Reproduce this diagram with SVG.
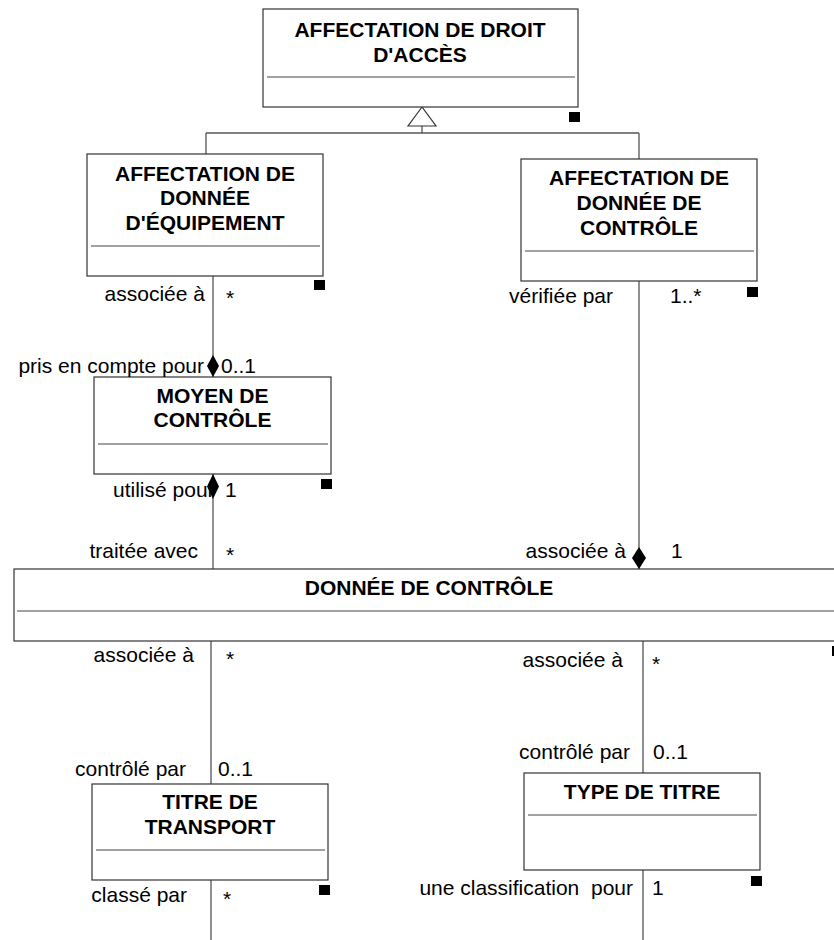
<svg xmlns="http://www.w3.org/2000/svg" width="834" height="940" viewBox="0 0 834 940">
<style>
.box{fill:#fff;stroke:#333;stroke-width:1.2}
.div{stroke:#444;stroke-width:1.2}
.t{font-family:"Liberation Sans",Arial,sans-serif;font-size:21px;font-weight:bold;text-anchor:middle;fill:#000}
.l{font-family:"Liberation Sans",Arial,sans-serif;font-size:21px;fill:#000}
.e{text-anchor:end}
.c{stroke:#555;stroke-width:1.3;fill:none}
.dm{fill:#000}
.sq{fill:#000}
</style>
<rect width="834" height="940" fill="#fff"/>
<g id="connectors">
<path class="c" d="M422 126V133M206 133H639M206 133V154M639 133V159"/>
<polygon points="422,107 408,126 436,126" fill="#fff" stroke="#333" stroke-width="1.2"/>
<path class="c" d="M213 276V377"/>
<path class="c" d="M213 474V569"/>
<path class="c" d="M639 281V569"/>
<path class="c" d="M211 641V784M211 880V940"/>
<path class="c" d="M643 641V773M643 870V940"/>
</g>
<g id="n1">
<rect class="box" x="263" y="9" width="315" height="98"/>
<line class="div" x1="267" y1="77" x2="575" y2="77"/>
<text class="t" x="420" y="37">AFFECTATION DE DROIT</text>
<text class="t" x="420" y="62">D'ACCÈS</text>
<rect class="sq" x="569" y="112" width="11" height="10"/>
</g>
<g id="n2">
<rect class="box" x="87" y="154" width="236" height="122"/>
<line class="div" x1="91" y1="246" x2="320" y2="246"/>
<text class="t" x="205" y="181">AFFECTATION DE</text>
<text class="t" x="205" y="205">DONNÉE</text>
<text class="t" x="205" y="230">D'ÉQUIPEMENT</text>
<rect class="sq" x="314" y="280" width="11" height="10"/>
</g>
<g id="n3">
<rect class="box" x="521" y="159" width="236" height="122"/>
<line class="div" x1="525" y1="251" x2="754" y2="251"/>
<text class="t" x="639" y="185">AFFECTATION DE</text>
<text class="t" x="639" y="210">DONNÉE DE</text>
<text class="t" x="639" y="235">CONTRÔLE</text>
<rect class="sq" x="747" y="287" width="11" height="10"/>
</g>
<g id="n4">
<rect class="box" x="94" y="377" width="237" height="97"/>
<line class="div" x1="98" y1="444" x2="328" y2="444"/>
<text class="t" x="212.5" y="403">MOYEN DE</text>
<text class="t" x="212.5" y="427">CONTRÔLE</text>
<rect class="sq" x="321" y="479" width="11" height="10"/>
</g>
<g id="n5">
<rect class="box" x="14" y="569" width="840" height="72"/>
<line class="div" x1="17" y1="611" x2="834" y2="611"/>
<text class="t" x="429" y="595">DONNÉE DE CONTRÔLE</text>
<rect class="sq" x="832" y="646" width="11" height="10"/>
</g>
<g id="n6">
<rect class="box" x="92" y="784" width="236" height="96"/>
<line class="div" x1="96" y1="850" x2="325" y2="850"/>
<text class="t" x="210" y="809">TITRE DE</text>
<text class="t" x="210" y="834">TRANSPORT</text>
<rect class="sq" x="319" y="885" width="11" height="10"/>
</g>
<g id="n7">
<rect class="box" x="524" y="773" width="236" height="97"/>
<line class="div" x1="528" y1="815" x2="757" y2="815"/>
<text class="t" x="642" y="799">TYPE DE TITRE</text>
<rect class="sq" x="751" y="876" width="11" height="10"/>
</g>
<g id="labels">
<text class="l e" x="205" y="301">associée à</text>
<text class="l" x="226" y="305">*</text>
<text class="l e" x="204" y="373">pris en compte pour</text>
<text class="l" x="221" y="373">0..1</text>
<text class="l" x="113" y="497">utilisé pour</text>
<text class="l" x="225" y="497">1</text>
<text class="l e" x="198" y="558">traitée avec</text>
<text class="l" x="226" y="562">*</text>
<text class="l e" x="626" y="558">associée à</text>
<text class="l" x="671" y="558">1</text>
<text class="l e" x="613" y="303">vérifiée par</text>
<text class="l" x="670" y="303">1..*</text>
<text class="l e" x="194" y="662">associée à</text>
<text class="l" x="226" y="666">*</text>
<text class="l e" x="623" y="667">associée à</text>
<text class="l" x="652" y="671">*</text>
<text class="l e" x="186" y="776">contrôlé par</text>
<text class="l" x="218" y="776">0..1</text>
<text class="l e" x="630" y="759">contrôlé par</text>
<text class="l" x="653" y="759">0..1</text>
<text class="l e" x="187" y="902">classé par</text>
<text class="l" x="223" y="906">*</text>
<text class="l e" x="633" y="895" xml:space="preserve">une classification  pour</text>
<text class="l" x="652" y="895">1</text>
</g>
<g id="diamonds">
<polygon class="dm" points="213,355 219,366 213,377 207,366"/>
<polygon class="dm" points="213,474 219,486.5 213,499 207,486.5"/>
<polygon class="dm" points="639,547 646,558 639,569 632,558"/>
</g>
</svg>
